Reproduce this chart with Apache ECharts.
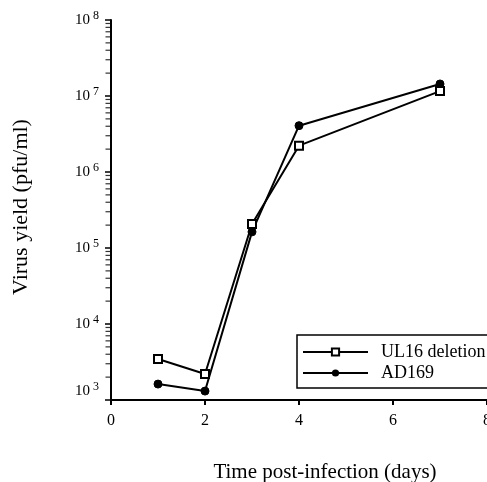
<!DOCTYPE html>
<html>
<head>
<meta charset="utf-8">
<script src="https://cdn.jsdelivr.net/npm/echarts@6/dist/echarts.min.js"></script>
<style>
  html, body { margin: 0; padding: 0; background: #fff; }
  #chart { width: 487px; height: 482px; }
</style>
</head>
<body>
<div id="chart"></div>
<script>
// data
var days = [1, 2, 3, 4, 7];
var ul16 = [3460, 2200, 207000, 2220000, 11600000];
var ad169 = [1620, 1310, 163000, 4070000, 14400000];
// log minor ticks: multipliers inside each decade
var decades = [1e3, 1e4, 1e5, 1e6, 1e7];
var minorMult = [2, 3, 4, 5, 6, 7, 8, 9];

var serif = "'Liberation Serif', 'Times New Roman', serif";

var minorData = [];
decades.forEach(function (d) {
  minorMult.forEach(function (m) { minorData.push([0, d * m]); });
});

var chart = echarts.init(document.getElementById('chart'));
chart.setOption({
  animation: false,
  backgroundColor: '#fff',
  grid: { left: 111, right: 0, top: 20, bottom: 82, containLabel: false, outerBoundsMode: 'none' },
  legend: {
    data: ['UL16 deletion', 'AD169'],
    orient: 'vertical',
    left: 297,
    top: 335,
    padding: [8, 40, 6, 5],
    itemWidth: 65,
    itemHeight: 9,
    itemGap: 3,
    borderColor: '#000',
    borderWidth: 1.5,
    borderRadius: 0,
    backgroundColor: '#fff',
    textStyle: { fontFamily: serif, fontSize: 18, color: '#000', padding: [0, 0, 0, 8] }
  },
  xAxis: {
    type: 'value',
    min: 0,
    max: 8,
    interval: 2,
    splitLine: { show: false },
    axisLine: { onZero: false, lineStyle: { color: '#000', width: 2 } },
    axisTick: { length: 5, lineStyle: { color: '#000', width: 2 } },
    axisLabel: { margin: 13, fontFamily: serif, fontSize: 16, color: '#000' },
    name: 'Time post-infection (days)',
    nameLocation: 'middle',
    nameGap: 62,
    nameTextStyle: { fontFamily: serif, fontSize: 21, color: '#000', padding: [0, 0, 0, 52] }
  },
  yAxis: {
    type: 'log',
    logBase: 10,
    min: 1e3,
    max: 1e8,
    interval: 1,
    splitLine: { show: false },
    axisLine: { onZero: false, lineStyle: { color: '#000', width: 2 } },
    axisTick: { length: 6, lineStyle: { color: '#000', width: 1.5 } },
    axisLabel: {
      margin: 12,
      color: '#000',
      formatter: function (v) {
        var e = Math.round(Math.log(v) / Math.LN10);
        if (e === 3) return '{b3|10}{s3|' + e + '}';
        return '{b|10}{s|' + e + '}';
      },
      rich: {
        b: { fontFamily: serif, fontSize: 15, color: '#000' },
        s: { fontFamily: serif, fontSize: 12, color: '#000', padding: [0, 0, 8, 3] },
        b3: { fontFamily: serif, fontSize: 15, color: '#000', padding: [0, 0, 18, 0] },
        s3: { fontFamily: serif, fontSize: 12, color: '#000', padding: [0, 0, 26, 3] }
      }
    },
    name: 'Virus yield (pfu/ml)',
    nameLocation: 'middle',
    nameGap: 79,
    nameTextStyle: { fontFamily: serif, fontSize: 22, color: '#000', padding: [0, 0, 0, 6] }
  },
  series: [
    {
      name: 'UL16 deletion',
      type: 'line',
      data: days.map(function (d, i) { return [d, ul16[i]]; }),
      symbol: 'rect',
      symbolSize: 8,
      lineStyle: { color: '#000', width: 2 },
      itemStyle: { color: '#fff', borderColor: '#000', borderWidth: 2 },
      z: 3
    },
    {
      name: 'AD169',
      type: 'line',
      data: days.map(function (d, i) { return [d, ad169[i]]; }),
      symbol: 'circle',
      symbolSize: 8,
      lineStyle: { color: '#000', width: 2 },
      itemStyle: { color: '#000', borderColor: '#000' },
      z: 2
    },
    {
      // minor ticks of the log axis, drawn as thin bars left of the axis
      name: 'minor',
      type: 'scatter',
      clip: false,
      silent: true,
      data: minorData,
      symbol: 'rect',
      symbolSize: [5, 1.2],
      symbolOffset: [-3, 0],
      itemStyle: { color: '#000' },
      z: 5
    }
  ]
});
</script>
</body>
</html>
